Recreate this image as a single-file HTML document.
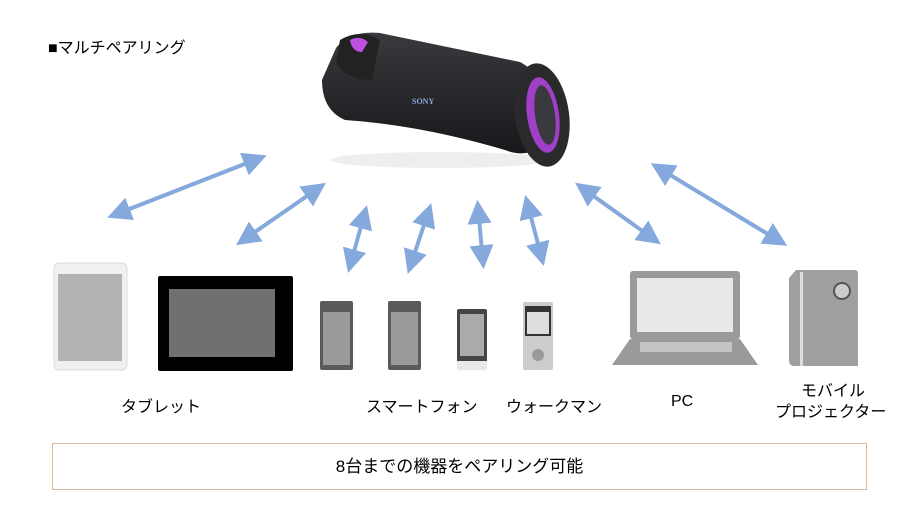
<!DOCTYPE html>
<html><head><meta charset="utf-8"><style>
body{margin:0;background:#fff;width:920px;height:527px;overflow:hidden;position:relative;font-family:"Liberation Sans","Noto Sans CJK JP",sans-serif;color:#000}
.t{position:absolute;font-size:16px;white-space:nowrap}
</style></head><body>
<div class="t" style="left:48px;top:34px;font-size:16px">■マルチペアリング</div>
<svg width="920" height="527" style="position:absolute;left:0;top:0">
<defs>
<marker id="a" viewBox="0 0 10 10" refX="7" refY="5" markerWidth="6" markerHeight="6" orient="auto-start-reverse"><path d="M0,0L10,5L0,10z" fill="#85a9dc"/></marker>
<linearGradient id="g" x1="0" y1="0" x2="0" y2="1"><stop offset="0" stop-color="#3a3a3e"/><stop offset="1" stop-color="#18181b"/></linearGradient>
</defs>
<g stroke="#85a9dc" stroke-width="4" marker-start="url(#a)" marker-end="url(#a)">
<line x1="114" y1="215" x2="260" y2="158"/>
<line x1="242" y1="241" x2="320" y2="187"/>
<line x1="350" y1="266" x2="365" y2="212"/>
<line x1="410" y1="267" x2="429" y2="210"/>
<line x1="483" y1="262" x2="478" y2="207"/>
<line x1="542" y1="259" x2="527" y2="202"/>
<line x1="581" y1="187" x2="655" y2="240"/>
<line x1="657" y1="167" x2="781" y2="242"/>
</g>
<ellipse cx="440" cy="160" rx="110" ry="8" fill="#eee"/>
<path d="M336,48 Q350,30 380,33 L520,62 Q545,75 548,110 L548,140 Q530,160 505,150 Q420,125 345,120 Q322,110 322,80 Z" fill="url(#g)"/>
<path d="M340,40 Q360,28 380,40 L372,80 Q345,80 336,62 Z" fill="#222"/>
<path d="M350,40 Q360,35 368,42 L362,52 Q352,52 350,40z" fill="#c050e0"/>
<ellipse cx="542" cy="115" rx="27" ry="52" transform="rotate(-8 542 115)" fill="#2a2a2d"/>
<ellipse cx="543" cy="115" rx="16" ry="38" transform="rotate(-8 543 115)" fill="#a040c8"/>
<ellipse cx="545" cy="115" rx="10" ry="30" transform="rotate(-8 545 115)" fill="#3a3a3e"/>
<text x="412" y="104" font-size="8" fill="#8aa8e0" font-family="Liberation Serif" font-weight="bold">SONY</text>
<rect x="54" y="263" width="73" height="107" rx="5" fill="#f0f0f0" stroke="#ddd"/>
<rect x="58" y="274" width="64" height="87" fill="#b3b3b3"/>
<rect x="158" y="276" width="135" height="95" rx="2" fill="#000"/>
<rect x="169" y="289" width="106" height="68" fill="#707070"/>
<rect x="320" y="301" width="33" height="69" rx="2" fill="#5a5a5a"/><rect x="323" y="312" width="27" height="53" fill="#9a9a9a"/>
<rect x="388" y="301" width="33" height="69" rx="2" fill="#5a5a5a"/><rect x="391" y="312" width="27" height="53" fill="#9a9a9a"/>
<rect x="457" y="309" width="30" height="61" rx="2" fill="#444"/><rect x="460" y="314" width="24" height="42" fill="#aaa"/><rect x="457" y="361" width="30" height="9" fill="#e8e8e8"/>
<rect x="523" y="302" width="30" height="68" rx="2" fill="#ccc"/><rect x="525" y="306" width="26" height="30" fill="#333"/><rect x="527" y="312" width="22" height="22" fill="#ddd"/><circle cx="538" cy="355" r="6" fill="#999"/>
<rect x="630" y="271" width="110" height="68" rx="3" fill="#9a9a9a"/><rect x="637" y="278" width="96" height="54" fill="#e8e8e8"/>
<path d="M630,339 L740,339 L758,365 L612,365 Z" fill="#9a9a9a"/><rect x="640" y="342" width="92" height="10" fill="#c4c4c4"/>
<path d="M796,270 L855,270 Q858,270 858,274 L858,366 L794,366 Q789,366 789,360 L789,278 Z" fill="#a0a0a0"/>
<rect x="800" y="272" width="3" height="94" fill="#ddd"/>
<circle cx="842" cy="291" r="8" fill="#ccc" stroke="#555" stroke-width="2"/>
</svg>
<div class="t" style="left:121px;top:393px">タブレット</div>
<div class="t" style="left:366px;top:393px">スマートフォン</div>
<div class="t" style="left:506px;top:393px">ウォークマン</div>
<div class="t" style="left:671px;top:393px">PC</div>
<div class="t" style="left:801px;top:377px">モバイル</div>
<div class="t" style="left:775px;top:398px">プロジェクター</div>
<div style="position:absolute;left:52px;top:443px;width:815px;height:47px;border:1px solid #e0b898;box-sizing:border-box;text-align:center;line-height:45px;font-size:17px">8台までの機器をペアリング可能</div>
</body></html>
